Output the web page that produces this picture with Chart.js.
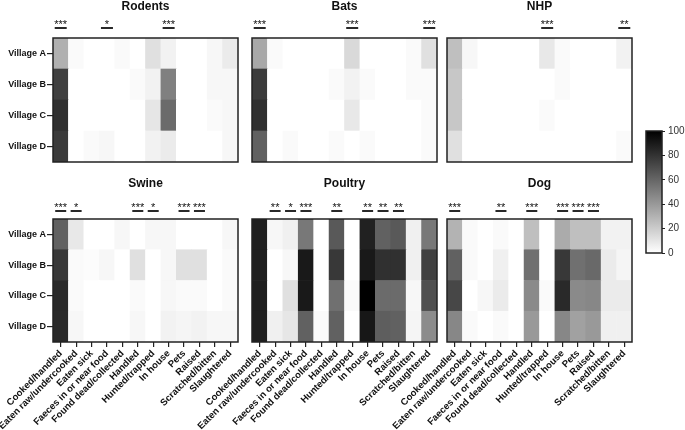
<!DOCTYPE html>
<html><head><meta charset="utf-8">
<script src="https://cdn.jsdelivr.net/npm/chart.js@4/dist/chart.umd.min.js"></script>
<style>
html,body{margin:0;padding:0;background:#fff;}
#wrap{position:relative;width:685px;height:430px;overflow:hidden;background:#fff;}
canvas{position:absolute;}
</style></head><body><div id="wrap"></div>
<script>
const categories = ['Cooked/handled','Eaten raw/undercooked','Eaten sick','Faeces in or near food','Found dead/collected','Handled','Hunted/trapped','In house','Pets','Raised','Scratched/bitten','Slaughtered'];
const villages = ['Village A','Village B','Village C','Village D'];

const rodentsValues = [
  [31,2,0,0,2,0,12,5,0,0,3,8],
  [75,0,0,0,0,2,5,50,0,0,3,3],
  [81,0,0,0,0,0,10,58,0,0,2,3],
  [77,0,2,3,0,0,5,8,0,0,0,3]
];
const rodentsSig = ['***','','','*','','','','***','','','',''];

const batsValues = [
  [34,2,0,0,0,0,15,0,0,0,2,12],
  [77,0,0,0,0,2,5,2,0,0,2,2],
  [81,0,0,0,0,0,9,0,0,0,0,2],
  [62,0,2,0,0,2,0,2,0,0,0,2]
];
const batsSig = ['***','','','','','','***','','','','','***'];

const nhpValues = [
  [25,3,0,0,0,0,9,2,0,0,0,5],
  [22,0,0,0,0,0,0,2,0,0,0,0],
  [22,0,0,0,0,0,2,0,0,0,0,0],
  [12,0,0,0,0,0,0,0,0,0,0,2]
];
const nhpSig = ['','','','','','','***','','','','','**'];

const swineValues = [
  [62,9,0,0,3,0,3,3,0,0,0,3],
  [78,2,1,3,0,12,0,3,12,12,0,2],
  [84,2,0,0,0,2,0,3,2,2,0,2],
  [84,3,0,0,0,3,0,5,4,5,3,3]
];
const swineSig = ['***','*','','','','***','*','','***','***','',''];

const poultryValues = [
  [88,3,6,53,0,65,0,87,62,65,6,53],
  [88,0,3,90,0,78,0,90,81,81,6,75],
  [88,0,12,90,0,56,2,100,58,58,3,69],
  [88,6,10,62,2,62,0,91,63,62,4,45]
];
const poultrySig = ['','**','*','***','','**','','**','**','**','',''];

const dogValues = [
  [30,2,0,2,0,25,0,33,25,25,5,5],
  [62,2,0,6,0,56,0,78,56,59,8,4],
  [72,0,3,8,0,46,2,84,46,47,8,8],
  [47,2,0,2,0,40,0,47,37,40,6,6]
];
const dogSig = ['***','','','**','','***','','***','***','***','',''];

const colorbarTicks = [0,20,40,60,80,100];

const FONT = '"Liberation Sans", Arial, sans-serif';
function gray(v){ const g = Math.round(255*(1 - v/100)); return 'rgb('+g+','+g+','+g+')'; }

const frame = {
  id:'frame',
  afterDatasetsDraw(chart, args, o){
    const ctx = chart.ctx, a = chart.chartArea, x = chart.scales.x;
    ctx.save();
    ctx.strokeStyle = '#222'; ctx.lineWidth = 1.5;
    ctx.strokeRect(a.left, a.top, a.right - a.left, a.bottom - a.top);
    if (o.title){
      ctx.fillStyle = '#111'; ctx.font = 'bold 12px ' + FONT;
      ctx.textAlign = 'center'; ctx.textBaseline = 'alphabetic';
      ctx.fillText(o.title, (a.left + a.right)/2, a.top - o.titleOffset);
    }
    if (o.sig){
      const ly = a.top - o.lineOffset;
      o.sig.forEach((s,i)=>{
        if(!s) return;
        const cx = x.getPixelForValue(i);
        ctx.fillStyle = '#111'; ctx.font = '11px ' + FONT;
        ctx.textAlign = 'center'; ctx.textBaseline = 'alphabetic';
        ctx.fillText(s, cx, ly - 0.5);
        ctx.strokeStyle = '#111'; ctx.lineWidth = 1.8;
        ctx.beginPath(); ctx.moveTo(cx - o.half, ly); ctx.lineTo(cx + o.half, ly); ctx.stroke();
      });
    }
    ctx.restore();
  }
};

const wrap = document.getElementById('wrap');
function addCanvas(x,y,w,h){
  const cv = document.createElement('canvas');
  cv.width = w; cv.height = h;
  cv.style.left = x+'px'; cv.style.top = y+'px';
  cv.style.width = w+'px'; cv.style.height = h+'px';
  wrap.appendChild(cv);
  return cv;
}

function makePanel(p){
  const cv = addCanvas(p.x, p.y, p.w, p.h);
  const A = p.area;
  const padTop = A.t - p.y, padBottom = p.y + p.h - A.b, padRight = p.x + p.w - A.r, leftW = A.l - p.x;
  const datasets = [3,2,1,0].map(r => ({
    label: villages[r],
    data: categories.map(() => 1),
    backgroundColor: p.values[r].map(gray),
    borderWidth: 0, barPercentage: 1, categoryPercentage: 1
  }));
  new Chart(cv, {
    type:'bar',
    data:{labels:categories, datasets},
    plugins:[frame],
    options:{
      responsive:false, animation:false, devicePixelRatio:1,
      layout:{padding:{top:padTop, bottom:0, left:0, right:padRight}},
      plugins:{legend:{display:false}, tooltip:{enabled:false},
        frame:{title:p.title, titleOffset:p.titleOffset, sig:p.sig, lineOffset:p.lineOffset, half:p.half}},
      scales:{
        x:{stacked:true, display:p.xLabels,
           grid:{offset:false, drawOnChartArea:false, tickLength:5, color:'#222', lineWidth:1.2},
           border:{display:false},
           ticks:{autoSkip:false, minRotation:45, maxRotation:45, color:'#111', padding:1, font:{family:FONT, size:9.5, weight:'bold'}},
           afterFit:s => { s.height = padBottom; }},
        y:{stacked:true, min:0, max:4, display:p.yLabels,
           afterBuildTicks:s => { s.ticks = [3.5,2.5,1.5,0.5].map(v => ({value:v})); },
           ticks:{callback:v => villages[3 - Math.floor(v)], color:'#111', padding:1, font:{family:FONT, size:9, weight:'bold'}},
           grid:{drawOnChartArea:false, tickLength:6, color:'#222', lineWidth:1.2},
           border:{display:false},
           afterFit:s => { s.width = leftW; }}
      }
    }
  });
}

const topRow = {t:38, b:162, titleOffset:28, lineOffset:10, half:6};
const botRow = {t:219, b:342, titleOffset:32.5, lineOffset:8, half:5.5};

makePanel({x:0, y:0, w:245, h:170, area:{l:53, r:238, t:topRow.t, b:topRow.b}, values:rodentsValues, sig:rodentsSig, title:'Rodents', titleOffset:topRow.titleOffset, lineOffset:topRow.lineOffset, half:topRow.half, yLabels:true, xLabels:false});
makePanel({x:200, y:0, w:245, h:170, area:{l:252, r:437, t:topRow.t, b:topRow.b}, values:batsValues, sig:batsSig, title:'Bats', titleOffset:topRow.titleOffset, lineOffset:topRow.lineOffset, half:topRow.half, yLabels:false, xLabels:false});
makePanel({x:400, y:0, w:240, h:170, area:{l:447, r:632, t:topRow.t, b:topRow.b}, values:nhpValues, sig:nhpSig, title:'NHP', titleOffset:topRow.titleOffset, lineOffset:topRow.lineOffset, half:topRow.half, yLabels:false, xLabels:false});

makePanel({x:0, y:170, w:245, h:260, area:{l:53, r:238, t:botRow.t, b:botRow.b}, values:swineValues, sig:swineSig, title:'Swine', titleOffset:botRow.titleOffset, lineOffset:botRow.lineOffset, half:botRow.half, yLabels:true, xLabels:true});
makePanel({x:140, y:170, w:305, h:260, area:{l:252, r:437, t:botRow.t, b:botRow.b}, values:poultryValues, sig:poultrySig, title:'Poultry', titleOffset:botRow.titleOffset, lineOffset:botRow.lineOffset, half:botRow.half, yLabels:false, xLabels:true});
makePanel({x:335, y:170, w:305, h:260, area:{l:447, r:632, t:botRow.t, b:botRow.b}, values:dogValues, sig:dogSig, title:'Dog', titleOffset:botRow.titleOffset, lineOffset:botRow.lineOffset, half:botRow.half, yLabels:false, xLabels:true});

// colour bar
(function(){
  const cx = 620, cy = 120, cw = 65, ch = 145;
  const cv = addCanvas(cx, cy, cw, ch);
  const area = {l:646, r:662, t:131, b:253};
  const rightW = cx + cw - area.r;
  new Chart(cv, {
    type:'bar',
    data:{labels:[''], datasets:[{
      data:[[colorbarTicks[0], colorbarTicks[colorbarTicks.length-1]]],
      backgroundColor:c => {
        const a = c.chart.chartArea; if(!a) return '#888';
        const g = c.chart.ctx.createLinearGradient(0, a.bottom, 0, a.top);
        g.addColorStop(0, gray(0)); g.addColorStop(1, gray(100));
        return g;
      },
      borderWidth:0, barPercentage:1, categoryPercentage:1
    }]},
    plugins:[frame],
    options:{
      responsive:false, animation:false, devicePixelRatio:1,
      layout:{padding:{top:area.t - cy, bottom:cy + ch - area.b, left:area.l - cx, right:0}},
      plugins:{legend:{display:false}, tooltip:{enabled:false}, frame:{}},
      scales:{
        x:{display:false, afterFit:s => { s.height = 0; }},
        y:{position:'right', min:0, max:100,
           afterBuildTicks:s => { s.ticks = colorbarTicks.map(v => ({value:v})); },
           ticks:{color:'#333', padding:3, font:{family:FONT, size:10}},
           grid:{drawOnChartArea:false, tickLength:3, color:'#222', lineWidth:1},
           border:{display:false},
           afterFit:s => { s.width = rightW; }}
      }
    }
  });
})();
</script></body></html>
